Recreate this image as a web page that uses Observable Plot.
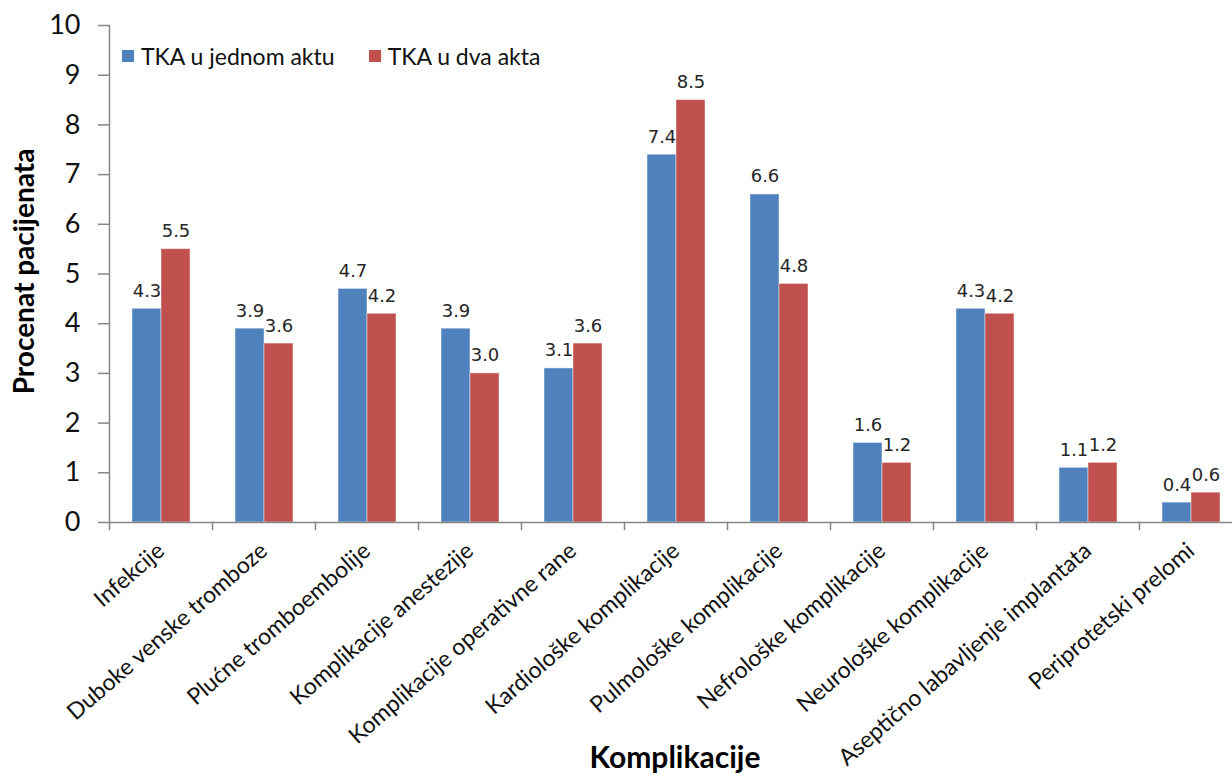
<!DOCTYPE html>
<html>
<head>
<meta charset="utf-8">
<script src="https://cdn.jsdelivr.net/npm/d3@7"></script>
<script src="https://cdn.jsdelivr.net/npm/@observablehq/plot@0.6"></script>
<style>
  body { margin: 0; background: #fff; }
  #chart { position: relative; width: 1232px; height: 776px; overflow: hidden; }
  #chart svg { position: absolute; left: 0; top: 0; }
  .legend { position: absolute; left: 122px; top: 42px; display: flex; align-items: center;
            font-family: Lato, sans-serif; font-size: 23px; color: #111; white-space: nowrap; }
  .legend .item { display: flex; align-items: center; margin-right: 34px; }
  .legend .sw { width: 12px; height: 12px; margin-right: 7px; }
</style>
</head>
<body>
<div id="chart"></div>
<script>
// Complications after total knee arthroplasty (TKA), percent of patients
const categories = [
  "Infekcije",
  "Duboke venske tromboze",
  "Plućne tromboembolije",
  "Komplikacije anestezije",
  "Komplikacije operativne rane",
  "Kardiološke komplikacije",
  "Pulmološke komplikacije",
  "Nefrološke komplikacije",
  "Neurološke komplikacije",
  "Aseptično labavljenje implantata",
  "Periprotetski prelomi"
];
const seriesNames = ["TKA u jednom aktu", "TKA u dva akta"];
const jednomAktu = [4.3, 3.9, 4.7, 3.9, 3.1, 7.4, 6.6, 1.6, 4.3, 1.1, 0.4];
const dvaAkta    = [5.5, 3.6, 4.2, 3.0, 3.6, 8.5, 4.8, 1.2, 4.2, 1.2, 0.6];
const yTicks = [0, 1, 2, 3, 4, 5, 6, 7, 8, 9, 10];
const seriesColors = ["#4F81BD", "#C0504D"];
const yTitle = "Procenat pacijenata";
const xTitle = "Komplikacije";

// long-format rows for the grouped bars
const rows = [];
categories.forEach((c, i) => {
  rows.push({category: c, series: seriesNames[0], value: jednomAktu[i]});
  rows.push({category: c, series: seriesNames[1], value: dvaAkta[i]});
});

const W = 1232, H = 776;
const mTop = 25, mBottom = 254, mLeft = 108, mRight = -11;
const frameH = H - mTop - mBottom;
const axisGray = "#868686";

const svg = Plot.plot({
  width: W,
  height: H,
  marginTop: mTop,
  marginBottom: mBottom,
  marginLeft: mLeft,
  marginRight: mRight,
  style: {fontFamily: "Lato, sans-serif", color: "#111", background: "#fff"},
  fx: {domain: categories, padding: 0, label: null, axis: null},
  x: {domain: seriesNames, paddingInner: 0, paddingOuter: 0.76, axis: null},
  y: {domain: [0, 10], label: null, axis: null},
  color: {domain: seriesNames, range: seriesColors},
  marks: [
    Plot.barY(rows, {
      fx: "category", x: "series", y: "value", fill: "series",
      stroke: "#fff", strokeOpacity: 0.45, strokeWidth: 1
    }),
    Plot.text(rows, {
      fx: "category", x: "series", y: "value",
      text: d => d.value.toFixed(1),
      dy: -12, lineAnchor: "bottom",
      fontFamily: "DejaVu Sans, sans-serif", fontSize: 18, fill: "#262626"
    }),
    // category axis: baseline plus short ticks between groups
    Plot.ruleY([0], {stroke: axisGray, strokeWidth: 1.5}),
    Plot.frame({anchor: "left", stroke: axisGray, strokeWidth: 1.5, insetTop: frameH, insetBottom: -7}),
    // value axis line, drawn in the first group only
    Plot.frame({anchor: "left", fx: () => categories[0], stroke: axisGray, strokeWidth: 1.5}),
    Plot.axisY({
      ticks: yTicks, tickFormat: d => d, tickSize: 11, tickPadding: 18,
      fontSize: 27, stroke: axisGray, strokeWidth: 1.5, label: null
    }),
    Plot.axisFx({
      anchor: "bottom", tickRotate: -41, tickSize: 0, tickPadding: 25, fontSize: 23,
      fill: "#111", label: null
    })
  ]
});

const chart = document.getElementById("chart");
chart.appendChild(svg);

// axis titles
const s = d3.select(svg);
s.append("text")
  .attr("transform", "translate(34,271.5) rotate(-90)")
  .attr("text-anchor", "middle")
  .attr("font-family", "Lato, sans-serif")
  .attr("font-weight", 700)
  .attr("font-size", 28)
  .attr("fill", "#000")
  .text(yTitle);
s.append("text")
  .attr("x", 675)
  .attr("y", 768)
  .attr("text-anchor", "middle")
  .attr("font-family", "Lato, sans-serif")
  .attr("font-weight", 700)
  .attr("font-size", 30)
  .attr("fill", "#000")
  .text(xTitle);

// legend
const legend = d3.select(chart).append("div").attr("class", "legend");
const items = legend.selectAll(".item").data(seriesNames).join("div").attr("class", "item");
items.append("div").attr("class", "sw").style("background", (d, i) => seriesColors[i]);
items.append("span").text(d => d);
</script>
</body>
</html>
